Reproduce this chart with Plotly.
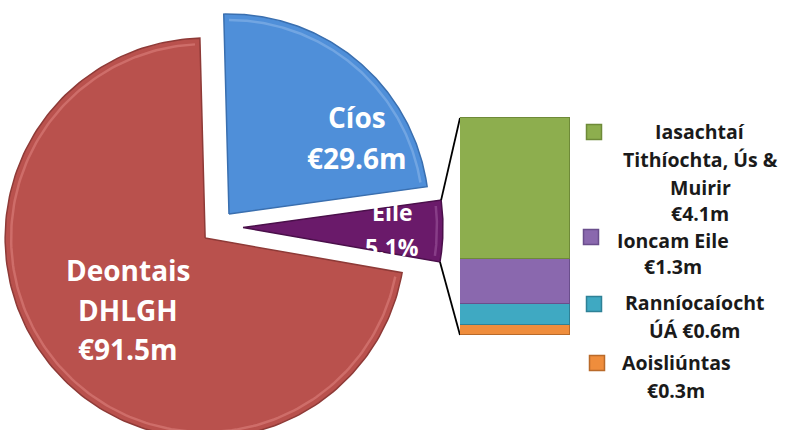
import numpy as np
import plotly.graph_objects as go

# ---------------- data ----------------
pie_labels = ["Cíos", "Eile", "Deontais DHLGH"]
pie_values = [29.6, 6.3, 91.5]
pie_text = [["Cíos", "€29.6m"], ["Eile", "5.1%"], ["Deontais", "DHLGH", "€91.5m"]]

bar_labels = ["Iasachtaí Tithíochta, Ús & Muirir", "Ioncam Eile", "Ranníocaíocht ÚÁ", "Aoisliúntas"]
bar_values = [4.1, 1.3, 0.6, 0.3]
bar_text = [["Iasachtaí", "Tithíochta, Ús &", "Muirir", "€4.1m"],
            ["Ioncam Eile", "€1.3m"],
            ["Ranníocaíocht", "ÚÁ €0.6m"],
            ["Aoisliúntas", "€0.3m"]]

# ---------------- style / layout ----------------
W, H = 787, 430
CX, CY, R = 218, 227, 200
ROT = -1.5
pulls = [17, 25, 17]
pie_colors = ["#4F8FD9", "#6A1A6A", "#B9514D"]
pie_edges = ["#3A6FAF", "#4A0F4A", "#8E3A37"]
pie_highlights = ["#8DB8EA", "#A05AA0", "#E08480"]
pie_label_pos = [(357, [117, 158], 28), (392, [212, 247], 23), (128, [270, 310, 349], 28)]

bar_colors = ["#8DAE4E", "#8A68AE", "#3FA9C2", "#EF8D3C"]
bar_edges = ["#6E8A38", "#6A4E8C", "#2E8196", "#B96A2A"]
BAR_X0, BAR_X1 = 460, 570
BAR_TOP, BAR_BOT = 118, 335
legend_marker = [(594, 132), (591, 237), (594, 304), (597, 363)]
legend_text_pos = [(700, [131, 159, 187, 213]), (673, [240, 266]),
                   (694, [302, 330]), (676, [362, 390])]
LEGEND_FS = 19.5
FONT = "Open Sans"

fig = go.Figure()

# ---------------- pie (exploded wedges) ----------------
total = sum(pie_values)
start = ROT
eile_corners = None
for i, v in enumerate(pie_values):
    sweep = 360.0 * v / total
    a0, a1 = start, start + sweep
    mid = np.radians((a0 + a1) / 2)
    cx = CX + pulls[i] * np.sin(mid)
    cy = CY - pulls[i] * np.cos(mid)
    th = np.radians(np.linspace(a0, a1, 200))
    xs = np.concatenate([[cx], cx + R * np.sin(th), [cx]])
    ys = np.concatenate([[cy], cy - R * np.cos(th), [cy]])
    fig.add_trace(go.Scatter(x=xs, y=ys, fill="toself", mode="lines",
                             fillcolor=pie_colors[i],
                             line=dict(color=pie_edges[i], width=1.5),
                             name=pie_labels[i], hoverinfo="name",
                             showlegend=False))
    # bevel-like highlight along the outer arc
    th_in = np.radians(np.linspace(a0 + 1.5, a1 - 1.5, 200))
    fig.add_trace(go.Scatter(x=cx + (R - 6) * np.sin(th_in), y=cy - (R - 6) * np.cos(th_in),
                             mode="lines", line=dict(color=pie_highlights[i], width=2.5),
                             opacity=0.55, hoverinfo="skip", showlegend=False))
    if pie_labels[i] == "Eile":
        eile_corners = [(cx + R * np.sin(th[0]), cy - R * np.cos(th[0])),
                        (cx + R * np.sin(th[-1]), cy - R * np.cos(th[-1]))]
    start = a1

# ---------------- stacked bar on a second axis ----------------
bar_total = sum(bar_values)
f_bot = (H - BAR_BOT) / H
f_top = (H - BAR_TOP) / H
span = bar_total / (f_top - f_bot)
r0 = -f_bot * span
r1 = r0 + span

for i in reversed(range(len(bar_values))):
    fig.add_trace(go.Bar(x=["Eile"], y=[bar_values[i]], width=1,
                         marker=dict(color=bar_colors[i],
                                     line=dict(color=bar_edges[i], width=1.5)),
                         name=bar_labels[i], xaxis="x2", yaxis="y2",
                         showlegend=False))

# connector lines
fig.add_trace(go.Scatter(x=[eile_corners[0][0], BAR_X0], y=[eile_corners[0][1], BAR_TOP],
                         mode="lines", line=dict(color="black", width=1.8),
                         hoverinfo="skip", showlegend=False))
fig.add_trace(go.Scatter(x=[eile_corners[1][0], BAR_X0], y=[eile_corners[1][1], BAR_BOT],
                         mode="lines", line=dict(color="black", width=1.8),
                         hoverinfo="skip", showlegend=False))

# ---------------- legend markers ----------------
fig.add_trace(go.Scatter(x=[p[0] for p in legend_marker], y=[p[1] for p in legend_marker],
                         mode="markers",
                         marker=dict(symbol="square", size=15, color=bar_colors,
                                     line=dict(color=bar_edges, width=1.5)),
                         hoverinfo="skip", showlegend=False))

annotations = []
for (x, ys, fs), lines in zip(pie_label_pos, pie_text):
    for y, t in zip(ys, lines):
        annotations.append(dict(x=x, y=y, xref="x", yref="y", text="<b>%s</b>" % t,
                                showarrow=False, xanchor="center", yanchor="middle",
                                font=dict(family=FONT, size=fs, color="white")))
for (x, ys), lines in zip(legend_text_pos, bar_text):
    for y, t in zip(ys, lines):
        annotations.append(dict(x=x, y=y, xref="x", yref="y", text="<b>%s</b>" % t,
                                showarrow=False, xanchor="center", yanchor="middle",
                                font=dict(family=FONT, size=LEGEND_FS, color="#1A1A1A")))

fig.update_layout(
    width=W, height=H, autosize=False,
    margin=dict(l=0, r=0, t=0, b=0),
    paper_bgcolor="white", plot_bgcolor="white",
    xaxis=dict(range=[0, W], visible=False, domain=[0, 1], fixedrange=True),
    yaxis=dict(range=[H, 0], visible=False, domain=[0, 1], fixedrange=True),
    xaxis2=dict(domain=[BAR_X0 / W, BAR_X1 / W], visible=False, anchor="y2", fixedrange=True),
    yaxis2=dict(range=[r0, r1], visible=False, domain=[0, 1], anchor="x2", fixedrange=True),
    barmode="stack", bargap=0,
    annotations=annotations,
    showlegend=False,
)

fig.write_html("out.html", config={"displayModeBar": False},
               post_script="document.body.style.margin='0';document.body.style.overflow='hidden';")
